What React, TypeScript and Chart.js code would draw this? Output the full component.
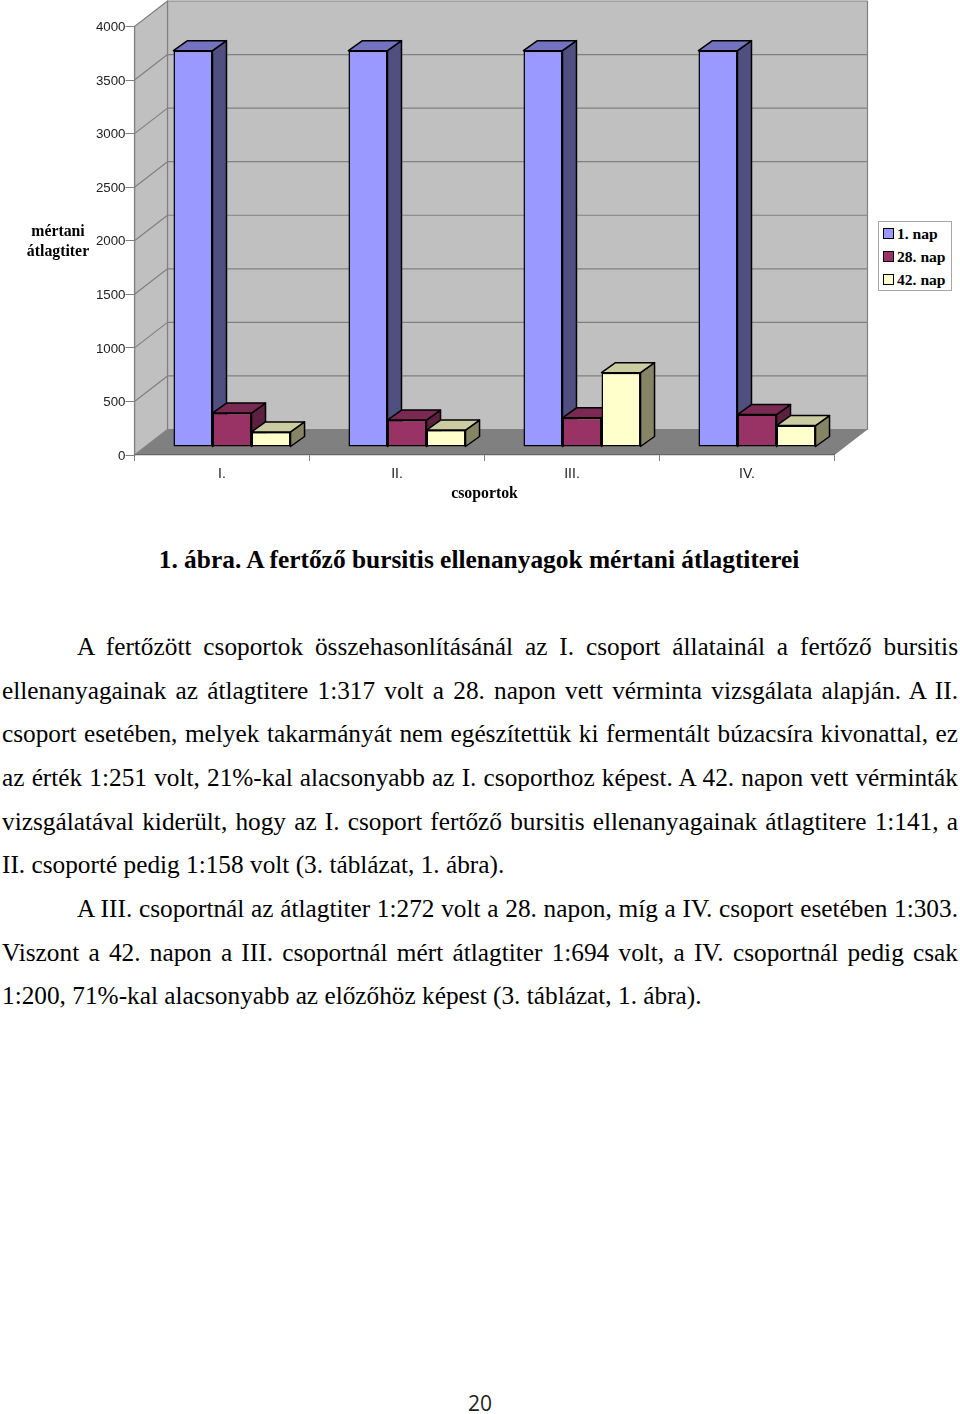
import { useEffect, useRef } from "react";
import { Chart, registerables } from "chart.js";

Chart.register(...registerables);

const categories = ["I.", "II.", "III.", "IV."];
const day1 = [3700, 3700, 3700, 3700];
const day28 = [317, 251, 272, 303];
const day42 = [141, 158, 694, 200];
const seriesNames = ["1. nap", "28. nap", "42. nap"];
const faceColors = ["#9999FF", "#993366", "#FFFFCC"];
const sideColors = ["#4F4F80", "#5E2040", "#858566"];
const topColors = ["#7373BF", "#7A2952", "#CCCCA3"];
const yTicks = [0, 500, 1000, 1500, 2000, 2500, 3000, 3500, 4000];
const yTitleLines = ["mértani", "átlagtiter"];
const xTitle = "csoportok";
const caption = "1. ábra. A fertőző bursitis ellenanyagok mértani átlagtiterei";
const bodyLines: [string, boolean, boolean][] = [
  ["A fertőzött csoportok összehasonlításánál az I. csoport állatainál a fertőző bursitis", true, true],
  ["ellenanyagainak az átlagtitere 1:317 volt a 28. napon vett vérminta vizsgálata alapján. A II.", false, true],
  ["csoport esetében, melyek takarmányát nem egészítettük ki fermentált búzacsíra kivonattal, ez", false, true],
  ["az érték 1:251 volt, 21%-kal alacsonyabb az I. csoporthoz képest. A 42. napon vett vérminták", false, true],
  ["vizsgálatával kiderült, hogy az I. csoport fertőző bursitis ellenanyagainak átlagtitere 1:141, a", false, true],
  ["II. csoporté pedig 1:158 volt (3. táblázat, 1. ábra).", false, false],
  ["A III. csoportnál az átlagtiter 1:272 volt a 28. napon, míg a IV. csoport esetében 1:303.", true, true],
  ["Viszont a 42. napon a III. csoportnál mért átlagtiter 1:694 volt, a IV. csoportnál pedig csak", false, true],
  ["1:200, 71%-kal alacsonyabb az előzőhöz képest (3. táblázat, 1. ábra).", false, false],
];
const pageNumber = "20";

const WALL_DX = 33;
const WALL_DY = -25.5;
const BAR_DX = 10;
const BAR_DY = -8;
const DEPTH_DX = 14;
const DEPTH_DY = -10;
const LINE = "#808080";

const poly = (ctx: CanvasRenderingContext2D, pts: number[][], fill: string, stroke?: string, lw = 1) => {
  ctx.beginPath();
  pts.forEach((p, i) => (i ? ctx.lineTo(p[0], p[1]) : ctx.moveTo(p[0], p[1])));
  ctx.closePath();
  ctx.fillStyle = fill;
  ctx.fill();
  if (stroke) {
    ctx.strokeStyle = stroke;
    ctx.lineWidth = lw;
    ctx.lineJoin = "round";
    ctx.stroke();
  }
};

const box3d = {
  id: "box3d",
  beforeDraw(chart: any) {
    const { ctx, chartArea: a, scales } = chart;
    const y0 = scales.y.getPixelForValue(0);
    const yMax = scales.y.getPixelForValue(yTicks[yTicks.length - 1]);
    const bl = a.left + WALL_DX, br = a.right + WALL_DX;
    ctx.save();
    poly(ctx, [[bl, yMax + WALL_DY], [br, yMax + WALL_DY], [br, y0 + WALL_DY], [bl, y0 + WALL_DY]], "#C0C0C0", LINE, 1.2);
    poly(ctx, [[a.left, yMax], [bl, yMax + WALL_DY], [bl, y0 + WALL_DY], [a.left, y0]], "#C0C0C0", LINE, 1.2);
    poly(ctx, [[a.left, y0], [a.right, y0], [br, y0 + WALL_DY], [bl, y0 + WALL_DY]], "#808080");
    ctx.strokeStyle = LINE;
    ctx.lineWidth = 1.2;
    yTicks.slice(1, -1).forEach((v) => {
      const y = scales.y.getPixelForValue(v);
      ctx.beginPath();
      ctx.moveTo(a.left, y);
      ctx.lineTo(bl, y + WALL_DY);
      ctx.lineTo(br, y + WALL_DY);
      ctx.stroke();
    });
    ctx.restore();
  },
  // Chart.js paints the left-most dataset last; a 3D view needs the opposite,
  // so the library's own pass is skipped and the bars are painted left to right.
  beforeDatasetDraw() {
    return false;
  },
  afterDatasetsDraw(chart: any) {
    const { ctx } = chart;
    for (let i = 0; i < chart.data.datasets.length; i++) {
      const meta = chart.getDatasetMeta(i);
      ctx.save();
      ctx.translate(BAR_DX, BAR_DY);
      meta.data.forEach((bar: any) => {
        const p = bar.getProps(["x", "y", "base", "width"], true);
        const l = p.x - p.width / 2, r = p.x + p.width / 2;
        poly(ctx, [[r, p.y], [r + DEPTH_DX, p.y + DEPTH_DY], [r + DEPTH_DX, p.base + DEPTH_DY], [r, p.base]], sideColors[i], "#000", 1.5);
        poly(ctx, [[l, p.y], [l + DEPTH_DX, p.y + DEPTH_DY], [r + DEPTH_DX, p.y + DEPTH_DY], [r, p.y]], topColors[i], "#000", 1.5);
      });
      meta.controller.draw();
      ctx.restore();
    }
  },
};

const SERIF = "'Liberation Serif', serif";

export default function App() {
  const ref = useRef<HTMLCanvasElement>(null);
  useEffect(() => {
    document.body.style.margin = "0";
    const mk = (i: number, data: number[]) => ({
      label: seriesNames[i],
      data,
      backgroundColor: faceColors[i],
      borderColor: "#000",
      borderWidth: 1.5,
      borderSkipped: false,
      categoryPercentage: 0.669,
      barPercentage: 1,
    });
    const chart = new Chart(ref.current!, {
      type: "bar",
      data: { labels: categories, datasets: [mk(0, day1), mk(1, day28), mk(2, day42)] },
      plugins: [box3d],
      options: {
        responsive: false,
        animation: false,
        layout: { padding: { top: 26.5, right: 125.5, left: 0, bottom: 0 } },
        plugins: { legend: { display: false }, tooltip: { enabled: false }, title: { display: false } },
        scales: {
          x: {
            afterFit: (s: any) => { s.height = 65; },
            grid: { offset: true, drawOnChartArea: false, drawTicks: true, tickLength: 6, color: LINE },
            border: { color: "#666", width: 1.2 },
            ticks: { color: "#222", font: { family: "'Liberation Sans'", size: 14 }, padding: 5, maxRotation: 0 },
            title: { display: true, text: xTitle, color: "#000", font: { family: "'Liberation Serif'", size: 15.8, weight: "bold" }, padding: { top: 4, bottom: 17 } },
          },
          y: {
            min: 0,
            max: 4000,
            afterFit: (s: any) => { s.width = 134.5; },
            afterBuildTicks: (s: any) => { s.ticks = yTicks.map((value) => ({ value })); },
            grid: { drawOnChartArea: false, drawTicks: true, tickLength: 9, color: LINE },
            border: { color: LINE, width: 1.2 },
            ticks: { color: "#222", font: { family: "'Liberation Sans'", size: 13.3 }, padding: 0, labelOffset: 1, callback: (v: any) => String(v) },
          },
        },
      },
    } as any);
    return () => chart.destroy();
  }, []);

  const abs = (o: any) => ({ position: "absolute" as const, whiteSpace: "nowrap" as const, ...o });
  return (
    <div style={{ position: "relative", width: 960, height: 1414, background: "#fff", overflow: "hidden", fontFamily: SERIF, color: "#000" }}>
      <canvas ref={ref} width={960} height={520} style={{ position: "absolute", left: 0, top: 0, width: 960, height: 520 }} />
      {yTitleLines.map((t, i) => (
        <div key={t} style={abs({ left: 8, width: 100, textAlign: "center", top: 222 + i * 19.5, fontSize: 15.8, lineHeight: "18px", fontWeight: "bold" })}>{t}</div>
      ))}
      <div style={abs({ left: 878, top: 221, width: 72, height: 68, border: "1.5px solid #A6A6A6", background: "#fff" })} />
      {seriesNames.map((t, i) => (
        <div key={t}>
          <div style={abs({ left: 883, top: 228 + i * 23, width: 9, height: 9, background: faceColors[i], border: "1px solid #000" })} />
          <div style={abs({ left: 897, top: 224 + i * 23, fontSize: 15.6, lineHeight: "20px", fontWeight: "bold" })}>{t}</div>
        </div>
      ))}
      <div style={abs({ left: -1, width: 960, textAlign: "center", top: 545, fontSize: 25.4, lineHeight: "28px", fontWeight: "bold" })}>{caption}</div>
      {bodyLines.map(([t, indent, just], i) => (
        <div
          key={i}
          style={{
            position: "absolute",
            left: indent ? 77 : 2,
            width: indent ? 881 : 956,
            top: 632 + i * 43.65,
            fontSize: 25.3,
            lineHeight: "28px",
            whiteSpace: just ? "normal" : "nowrap",
            textAlign: just ? "justify" : "left",
            textAlignLast: just ? "justify" : "left",
          } as any}
        >
          {t}
        </div>
      ))}
      <div style={abs({ left: 0, width: 960, textAlign: "center", top: 1390, fontSize: 21, lineHeight: "26px", fontFamily: "'Open Sans'", color: "#222" })}>{pageNumber}</div>
    </div>
  );
}
